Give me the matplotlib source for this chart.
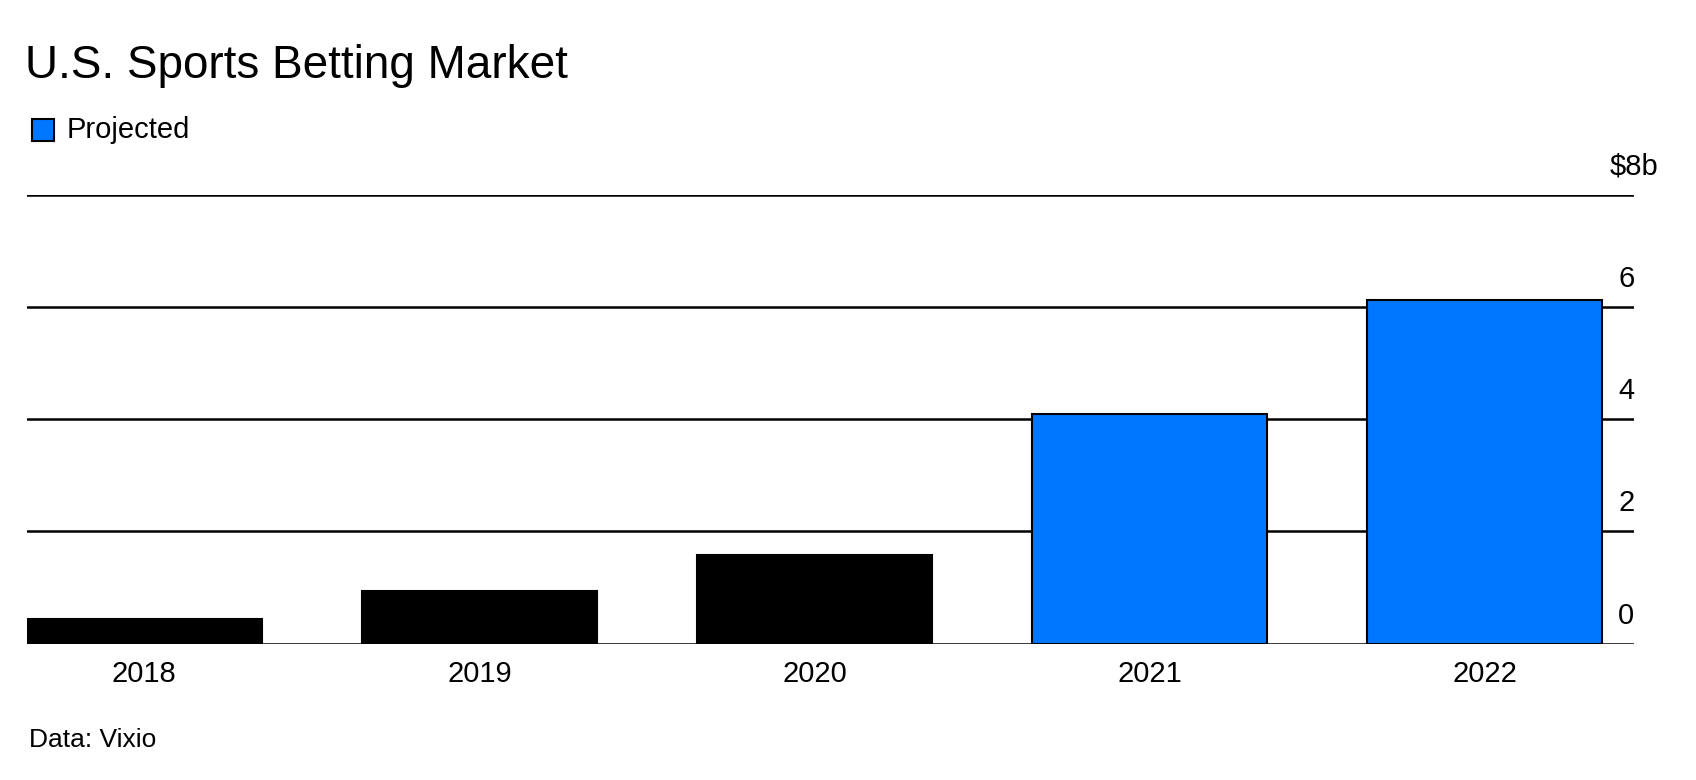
import matplotlib
matplotlib.use("Agg")
import matplotlib.pyplot as plt
import matplotlib.transforms as mtransforms
import numpy as np

years = ["2018", "2019", "2020", "2021", "2022"]
market = [0.43, 0.94, 1.58, 4.10, 6.12]   # $ billions
projected = [False, False, False, True, True]
yticks = [0, 2, 4, 6, 8]
ytick_labels = ["0", "2", "4", "6", "$8b"]

plt.rcParams['font.family'] = ['Liberation Sans', 'DejaVu Sans']

blue = "#0077FF"

fig = plt.figure(figsize=(16.96, 7.80), dpi=100)
ax = fig.add_axes([0.0159, 0.1749, 0.9478, 0.5755])

x = np.arange(len(years))
colors = [blue if p else "black" for p in projected]
ax.bar(x, market, width=0.7, color=colors, edgecolor="black", linewidth=1.5, zorder=3)

# gridlines
for t in yticks:
    ax.axhline(t, color="black", lw=1.8, zorder=1)

ax.set_xlim(-0.35, 4.447)
ax.set_ylim(0, 8)

ax.set_xticks(x)
ax.set_xticklabels(years, fontsize=21)
ax.tick_params(axis="x", length=0, pad=12)
ax.set_yticks([])
for s in ax.spines.values():
    s.set_visible(False)

# right-side labels sitting above the gridlines
trans = mtransforms.blended_transform_factory(ax.transAxes, ax.transData)
for t, lab in zip(yticks, ytick_labels):
    dx = 24 if lab.startswith("$") else 0
    ax.annotate(lab, xy=(1.0, t), xycoords=trans, xytext=(dx, 28),
                textcoords="offset pixels", ha="right", va="center", fontsize=21)

fig.text(0.015, 0.915, "U.S. Sports Betting Market", fontsize=33, va="center", ha="left")

# legend
fig.patches.append(plt.Rectangle((32 / 1696, 1 - 141 / 780), 22 / 1696, 22 / 780,
                                 transform=fig.transFigure, facecolor=blue,
                                 edgecolor="black", linewidth=1.5))
fig.text(67 / 1696, 1 - 130 / 780, "Projected", fontsize=21, va="center", ha="left")

fig.text(29 / 1696, 1 - 740 / 780, "Data: Vixio", fontsize=19, va="center", ha="left")

plt.savefig("out.png", dpi=100)
